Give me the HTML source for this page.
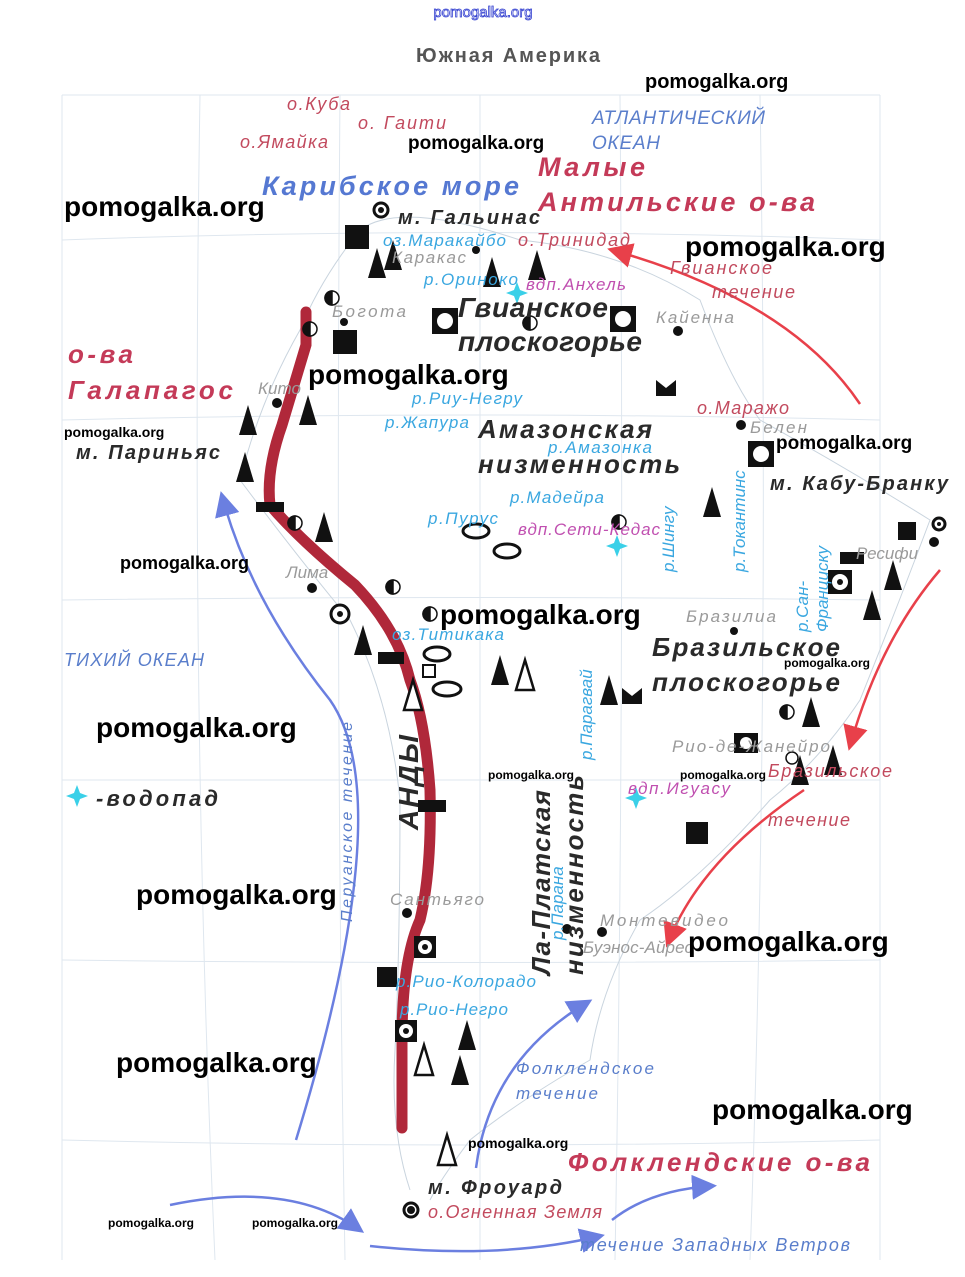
<!DOCTYPE html>
<html><head><meta charset="utf-8"><style>
html,body{margin:0;padding:0;background:#fff;}
svg{display:block;}
text{font-family:"Liberation Sans",sans-serif;}
.w{font-weight:bold;fill:#000;}
.r{font-style:italic;fill:#c24a5e;font-size:18px;}
.b{font-style:italic;fill:#3aa7e0;font-size:17px;}
.g{font-style:italic;fill:#9a9a9a;font-size:17px;}
.m{font-style:italic;fill:#c04fb0;font-size:17px;}
.k{font-style:italic;font-weight:bold;fill:#2a2a2a;}
.bb{font-style:italic;fill:#5a7ecb;}
</style></head><body>
<svg width="965" height="1277" viewBox="0 0 965 1277" xmlns="http://www.w3.org/2000/svg">
<defs>
<marker id="ab" markerWidth="10" markerHeight="10" refX="8" refY="5" orient="auto"><path d="M0,0 L10,5 L0,10 z" fill="#6b7fe0"/></marker>
<marker id="ar" markerWidth="10" markerHeight="10" refX="8" refY="5" orient="auto"><path d="M0,0 L10,5 L0,10 z" fill="#e8404a"/></marker>
<g id="mt"><path d="M0,0 l-9,30 h18 z" fill="#111"/></g>
<g id="mo"><path d="M0,0 l-9,30 h18 z" fill="#fff" stroke="#111" stroke-width="2.5"/></g>
</defs>
<g stroke="#dfe7ef" stroke-width="1" fill="none">
<path d="M62,95 L880,95 M62,95 L62,1260 M880,95 L880,1260"/>
<path d="M62,240 Q470,225 880,240 M62,420 Q470,410 880,420 M62,600 Q470,595 880,600 M62,780 Q470,780 880,780 M62,960 Q470,965 880,960 M62,1140 Q470,1150 880,1140"/>
<path d="M200,95 Q190,700 215,1260 M340,95 Q335,700 345,1260 M480,95 L480,1260 M620,95 Q625,700 615,1260 M760,95 Q770,700 750,1260"/>
</g>
<g stroke="#c9d4de" stroke-width="1" fill="none">
<path d="M360,230 Q400,200 520,240 Q620,250 700,300 Q730,380 760,420 Q850,470 930,520 Q900,600 860,700 Q820,760 770,800 Q700,880 640,920 Q600,990 590,1060 Q520,1100 470,1140 Q440,1180 430,1200"/>
<path d="M360,230 Q320,280 300,330 Q260,400 240,480 Q300,560 350,620 Q390,700 400,800 Q400,950 395,1050 Q390,1130 410,1190"/>
</g>
<path d="M306,312 L306,345 Q294,385 282,425 Q266,470 270,505 Q300,540 355,585 Q398,630 410,680 Q425,720 430,790 Q432,870 420,920 Q402,960 402,1040 L402,1128" fill="none" stroke="#b0283a" stroke-width="11" stroke-linecap="round"/>
<path d="M296,1140 Q400,800 330,700 Q250,600 222,496" fill="none" stroke="#6b7fe0" stroke-width="2.5" marker-end="url(#ab)"/>
<path d="M476,1168 Q490,1060 588,1002" fill="none" stroke="#6b7fe0" stroke-width="2.5" marker-end="url(#ab)"/>
<path d="M170,1205 Q290,1180 360,1230" fill="none" stroke="#6b7fe0" stroke-width="2.5" marker-end="url(#ab)"/>
<path d="M370,1246 Q500,1260 600,1236" fill="none" stroke="#6b7fe0" stroke-width="2.5" marker-end="url(#ab)"/>
<path d="M612,1220 Q650,1190 712,1186" fill="none" stroke="#6b7fe0" stroke-width="2.5" marker-end="url(#ab)"/>
<path d="M860,404 Q790,300 612,250" fill="none" stroke="#e8404a" stroke-width="2.5" marker-end="url(#ar)"/>
<path d="M940,570 Q880,640 850,746" fill="none" stroke="#e8404a" stroke-width="2.5" marker-end="url(#ar)"/>
<path d="M804,790 Q700,860 668,943" fill="none" stroke="#e8404a" stroke-width="2.5" marker-end="url(#ar)"/>
<use href="#mt" x="377" y="248"/><use href="#mt" x="393" y="240"/>
<use href="#mt" x="492" y="257"/><use href="#mt" x="537" y="250"/>
<use href="#mt" x="248" y="405"/><use href="#mt" x="308" y="395"/>
<use href="#mt" x="245" y="452"/><use href="#mt" x="324" y="512"/>
<use href="#mt" x="363" y="625"/><use href="#mt" x="500" y="655"/><use href="#mo" x="525" y="660"/>
<use href="#mo" x="413" y="680"/><use href="#mt" x="712" y="487"/>
<use href="#mt" x="609" y="675"/><use href="#mt" x="872" y="590"/><use href="#mt" x="893" y="560"/>
<use href="#mt" x="833" y="745"/><use href="#mt" x="800" y="755"/>
<use href="#mt" x="467" y="1020"/><use href="#mt" x="460" y="1055"/><use href="#mo" x="424" y="1045"/><use href="#mo" x="447" y="1135"/>
<use href="#mt" x="811" y="697"/>
<g fill="#111">
<rect x="345" y="225" width="24" height="24"/><rect x="333" y="330" width="24" height="24"/>
<rect x="256" y="502" width="28" height="10"/><rect x="378" y="652" width="26" height="12"/>
<rect x="418" y="800" width="28" height="12"/><rect x="377" y="967" width="20" height="20"/>
<rect x="686" y="822" width="22" height="22"/><rect x="898" y="522" width="18" height="18"/>
<rect x="840" y="552" width="24" height="12"/>
<path d="M656,380 l10,8 l10,-8 v16 h-20z M622,688 l10,8 l10,-8 v16 h-20z"/>
</g>
<g fill="#111"><rect x="432" y="308" width="26" height="26"/><rect x="610" y="306" width="26" height="26"/><rect x="748" y="441" width="26" height="26"/><rect x="734" y="733" width="24" height="20"/><rect x="414" y="936" width="22" height="22"/><rect x="828" y="570" width="24" height="24"/><rect x="395" y="1020" width="22" height="22"/></g>
<g fill="#fff"><circle cx="445" cy="321" r="8"/><circle cx="623" cy="319" r="8"/><circle cx="761" cy="454" r="8"/><circle cx="746" cy="743" r="6"/><circle cx="425" cy="947" r="7"/><circle cx="840" cy="582" r="8"/><circle cx="406" cy="1031" r="7"/></g>
<g fill="#111"><circle cx="425" cy="947" r="3"/><circle cx="840" cy="582" r="3"/><circle cx="406" cy="1031" r="3"/></g>
<g stroke="#111" stroke-width="3" fill="#fff">
<circle cx="381" cy="210" r="7"/><circle cx="340" cy="614" r="9"/><circle cx="411" cy="1210" r="7"/><circle cx="939" cy="524" r="6"/>
</g>
<g fill="#111"><circle cx="381" cy="210" r="3"/><circle cx="340" cy="614" r="3"/><circle cx="411" cy="1210" r="4"/><circle cx="939" cy="524" r="2"/></g>
<g fill="#111"><circle cx="476" cy="250" r="4"/><circle cx="344" cy="322" r="4"/><circle cx="277" cy="403" r="5"/><circle cx="678" cy="331" r="5"/><circle cx="741" cy="425" r="5"/><circle cx="312" cy="588" r="5"/><circle cx="734" cy="631" r="4"/><circle cx="602" cy="932" r="5"/><circle cx="567" cy="929" r="5"/><circle cx="407" cy="913" r="5"/><circle cx="934" cy="542" r="5"/></g>
<g stroke="#111" stroke-width="1.5">
<circle cx="332" cy="298" r="7" fill="#fff"/><path d="M332,291 a7,7 0 0 0 0,14z" fill="#111"/>
<circle cx="310" cy="329" r="7" fill="#fff"/><path d="M310,322 a7,7 0 0 0 0,14z" fill="#111"/>
<circle cx="530" cy="323" r="7" fill="#fff"/><path d="M530,316 a7,7 0 0 0 0,14z" fill="#111"/>
<circle cx="295" cy="523" r="7" fill="#fff"/><path d="M295,516 a7,7 0 0 0 0,14z" fill="#111"/>
<circle cx="393" cy="587" r="7" fill="#fff"/><path d="M393,580 a7,7 0 0 0 0,14z" fill="#111"/>
<circle cx="430" cy="614" r="7" fill="#fff"/><path d="M430,607 a7,7 0 0 0 0,14z" fill="#111"/>
<circle cx="619" cy="522" r="7" fill="#fff"/><path d="M619,515 a7,7 0 0 0 0,14z" fill="#111"/>
<circle cx="787" cy="712" r="7" fill="#fff"/><path d="M787,705 a7,7 0 0 0 0,14z" fill="#111"/>
<circle cx="792" cy="758" r="6" fill="#fff"/>
</g>
<g fill="none" stroke="#111" stroke-width="3">
<ellipse cx="476" cy="531" rx="13" ry="7"/><ellipse cx="507" cy="551" rx="13" ry="7"/><ellipse cx="437" cy="654" rx="13" ry="7"/><ellipse cx="447" cy="689" rx="14" ry="7"/>
<rect x="423" y="665" width="12" height="12" stroke-width="2"/>
</g>
<g fill="#3ad0e8"><path d="M517,282 l3,8 8,3 -8,3 -3,8 -3,-8 -8,-3 8,-3z M617,535 l3,8 8,3 -8,3 -3,8 -3,-8 -8,-3 8,-3z M636,787 l3,8 8,3 -8,3 -3,8 -3,-8 -8,-3 8,-3z M77,785 l3,8 8,3 -8,3 -3,8 -3,-8 -8,-3 8,-3z"/></g>
<text x="483" y="17" text-anchor="middle" font-size="15" fill="#fff" stroke="#3340d0" stroke-width="0.8">pomogalka.org</text>
<text x="508" y="62" text-anchor="middle" font-size="20" font-weight="bold" fill="#555" textLength="184">Южная Америка</text>
<text class="w" x="645" y="88" font-size="20">pomogalka.org</text>
<text class="r" x="287" y="110" textLength="63">о.Куба</text>
<text class="r" x="358" y="129" textLength="88">о. Гаити</text>
<text class="r" x="240" y="148" textLength="88">о.Ямайка</text>
<text class="w" x="408" y="149" font-size="19">pomogalka.org</text>
<text class="bb" x="592" y="124" font-size="19" textLength="173">АТЛАНТИЧЕСКИЙ</text>
<text class="bb" x="592" y="149" font-size="19" textLength="68">ОКЕАН</text>
<text x="538" y="176" font-size="27" font-weight="bold" font-style="italic" fill="#c43a58" textLength="107">Малые</text>
<text x="538" y="211" font-size="27" font-weight="bold" font-style="italic" fill="#c43a58" textLength="277">Антильские о-ва</text>
<text x="262" y="195" font-size="27" font-weight="bold" font-style="italic" fill="#5578d2" textLength="257">Карибское море</text>
<text class="w" x="64" y="216" font-size="28">pomogalka.org</text>
<text class="k" x="398" y="224" font-size="20" textLength="142">м. Гальинас</text>
<text class="b" x="383" y="246" textLength="123">оз.Маракайбо</text>
<text class="r" x="518" y="246" textLength="112">о.Тринидад</text>
<text class="w" x="685" y="256" font-size="28">pomogalka.org</text>
<text class="g" x="392" y="263" textLength="74">Каракас</text>
<text class="r" x="670" y="274" textLength="102">Гвианское</text>
<text class="r" x="712" y="298" textLength="83">течение</text>
<text class="b" x="424" y="285" textLength="94">р.Ориноко</text>
<text class="m" x="526" y="290" textLength="100">вдп.Анхель</text>
<text class="k" x="458" y="317" font-size="28" textLength="150">Гвианское</text>
<text class="k" x="458" y="351" font-size="28" textLength="184">плоскогорье</text>
<text class="g" x="332" y="317" textLength="74">Богота</text>
<text class="g" x="656" y="323" textLength="78">Кайенна</text>
<text x="68" y="363" font-size="26" font-weight="bold" font-style="italic" fill="#c43a58" textLength="65">о-ва</text>
<text x="68" y="399" font-size="26" font-weight="bold" font-style="italic" fill="#c43a58" textLength="165">Галапагос</text>
<text class="w" x="308" y="384" font-size="28">pomogalka.org</text>
<text class="g" x="258" y="394">Кито</text>
<text class="b" x="412" y="404" textLength="110">р.Риу-Негру</text>
<text class="r" x="697" y="414" textLength="92">о.Маражо</text>
<text class="g" x="750" y="433" textLength="57">Белен</text>
<text class="b" x="385" y="428" textLength="84">р.Жапура</text>
<text class="k" x="478" y="438" font-size="26" textLength="174">Амазонская</text>
<text class="k" x="478" y="473" font-size="26" textLength="202">низменность</text>
<text class="b" x="548" y="453" textLength="104">р.Амазонка</text>
<text class="w" x="64" y="437" font-size="14">pomogalka.org</text>
<text class="k" x="76" y="459" font-size="20" textLength="144">м. Париньяс</text>
<text class="w" x="776" y="449" font-size="19">pomogalka.org</text>
<text class="k" x="770" y="490" font-size="20" textLength="178">м. Кабу-Бранку</text>
<text class="b" x="510" y="503" textLength="94">р.Мадейра</text>
<text class="b" x="428" y="524" textLength="70">р.Пурус</text>
<text class="m" x="518" y="535" textLength="142">вдп.Сети-Кедас</text>
<text class="b" transform="translate(674,572) rotate(-90)">р.Шингу</text>
<text class="b" transform="translate(745,572) rotate(-90)">р.Токантинс</text>
<text class="b" transform="translate(808,632) rotate(-90)">р.Сан-</text>
<text class="b" transform="translate(828,632) rotate(-90)">Франциску</text>
<text class="g" x="856" y="559">Ресифи</text>
<text class="w" x="120" y="569" font-size="18">pomogalka.org</text>
<text class="g" x="286" y="578">Лима</text>
<text class="w" x="440" y="624" font-size="28">pomogalka.org</text>
<text class="g" x="686" y="622" textLength="90">Бразилиа</text>
<text class="b" x="392" y="640" textLength="112">оз.Титикака</text>
<text class="k" x="652" y="656" font-size="26" textLength="188">Бразильское</text>
<text class="k" x="652" y="691" font-size="26" textLength="188">плоскогорье</text>
<text class="bb" x="64" y="666" font-size="18" textLength="140">ТИХИЙ ОКЕАН</text>
<text class="w" x="784" y="667" font-size="12">pomogalka.org</text>
<text class="w" x="96" y="737" font-size="28">pomogalka.org</text>
<text class="g" x="672" y="752" textLength="158">Рио-де-Жанейро</text>
<text class="bb" font-size="16" transform="translate(352,922) rotate(-90)" textLength="200">Перуанское течение</text>
<text class="k" font-size="28" transform="translate(418,830) rotate(-90)" textLength="95">АНДЫ</text>
<text class="b" transform="translate(592,760) rotate(-90)">р.Парагвай</text>
<text class="w" x="488" y="779" font-size="12">pomogalka.org</text>
<text class="w" x="680" y="779" font-size="12">pomogalka.org</text>
<text class="r" x="768" y="777" textLength="124">Бразильское</text>
<text class="r" x="768" y="826" textLength="82">течение</text>
<text class="k" x="96" y="806" font-size="22" textLength="122">-водопад</text>
<text class="m" x="628" y="794" textLength="102">вдп.Игуасу</text>
<text class="k" font-size="26" transform="translate(550,975) rotate(-90)" textLength="185">Ла-Платская</text>
<text class="k" font-size="26" transform="translate(583,975) rotate(-90)" textLength="200">низменность</text>
<text class="b" transform="translate(563,940) rotate(-90)">р.Парана</text>
<text class="w" x="136" y="904" font-size="28">pomogalka.org</text>
<text class="g" x="390" y="905" textLength="94">Сантьяго</text>
<text class="g" x="600" y="926" textLength="128">Монтевидео</text>
<text class="g" x="583" y="953" textLength="110">Буэнос-Айрес</text>
<text class="w" x="688" y="951" font-size="28">pomogalka.org</text>
<text class="b" x="396" y="987" textLength="140">р.Рио-Колорадо</text>
<text class="b" x="400" y="1015" textLength="108">р.Рио-Негро</text>
<text class="w" x="116" y="1072" font-size="28">pomogalka.org</text>
<text class="bb" x="516" y="1074" font-size="17" textLength="138">Фолклендское</text>
<text class="bb" x="516" y="1099" font-size="17" textLength="82">течение</text>
<text class="w" x="712" y="1119" font-size="28">pomogalka.org</text>
<text class="w" x="468" y="1148" font-size="14">pomogalka.org</text>
<text x="568" y="1171" font-size="26" font-weight="bold" font-style="italic" fill="#c43a58" textLength="302">Фолклендские о-ва</text>
<text class="k" x="428" y="1194" font-size="20" textLength="134">м. Фроуард</text>
<text class="r" x="428" y="1218" textLength="174">о.Огненная Земля</text>
<text class="w" x="108" y="1227" font-size="12">pomogalka.org</text>
<text class="w" x="252" y="1227" font-size="12">pomogalka.org</text>
<text class="bb" x="580" y="1251" font-size="18" textLength="270">течение Западных Ветров</text>
</svg>
</body></html>
